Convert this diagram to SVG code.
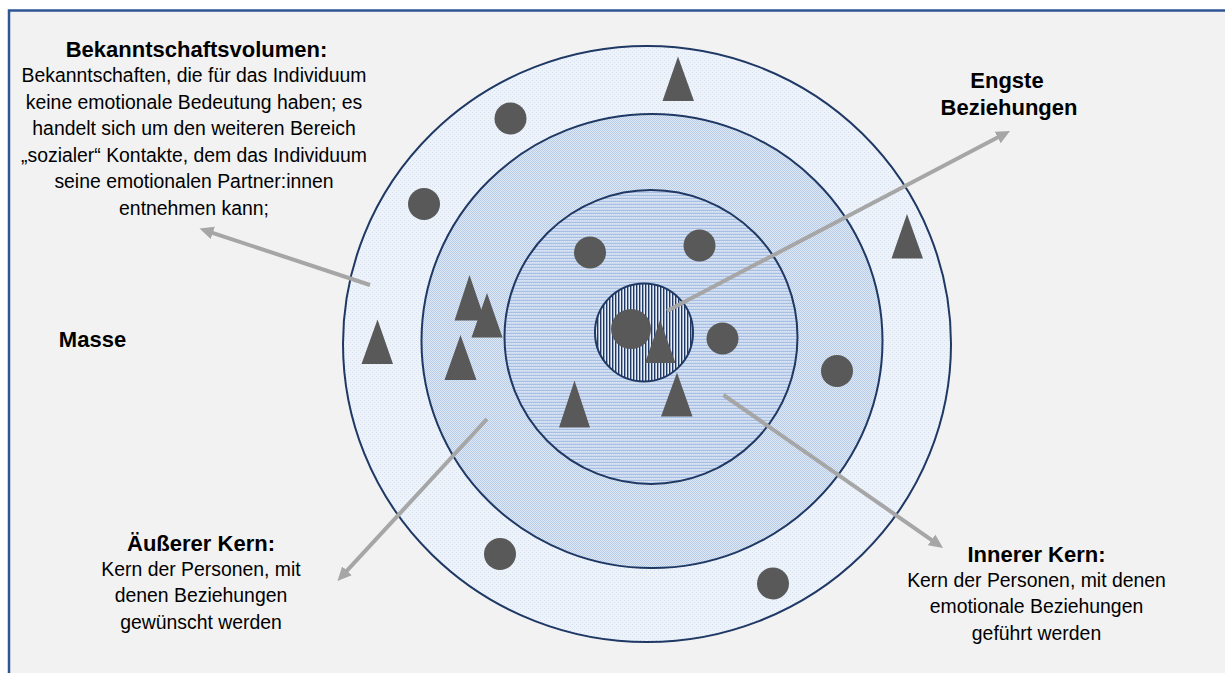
<svg xmlns="http://www.w3.org/2000/svg" width="1225" height="673" viewBox="0 0 1225 673">
<style>
.t{font-family:"Liberation Sans",Arial,sans-serif;font-weight:bold;font-size:22px;fill:#000;text-anchor:middle}
.b{font-family:"Liberation Sans",Arial,sans-serif;font-size:19.4px;fill:#000;text-anchor:middle}
.ring{stroke:#1f3864;stroke-width:2}
.dot{fill:#595959}
.con{stroke:#a6a6a6;stroke-width:4;fill:none;marker-end:url(#ah)}
</style>
<defs>
<pattern id="p1" width="4" height="4" patternUnits="userSpaceOnUse">
<rect width="4" height="4" fill="#eef3fa"/>
<rect x="0" y="0" width="1" height="1" fill="#d4e0f1"/>
<rect x="2" y="2" width="1" height="1" fill="#d4e0f1"/>
</pattern>
<pattern id="p2" width="2" height="2" patternUnits="userSpaceOnUse">
<rect width="2" height="2" fill="#dfe8f5"/>
<rect x="0" y="0" width="1" height="1" fill="#b9cce7"/>
<rect x="1" y="1" width="1" height="1" fill="#b9cce7"/>
</pattern>
<pattern id="p3" width="2" height="3" patternUnits="userSpaceOnUse">
<rect width="2" height="3" fill="#cbdaf0"/>
<rect x="0" y="0" width="2" height="1" fill="#a7bfe2"/>
<rect x="0" y="1" width="1" height="1" fill="#dce6f5"/>
</pattern>
<pattern id="p4" width="3" height="3" patternUnits="userSpaceOnUse">
<rect width="3" height="3" fill="#e6eef9"/>
<rect x="0" y="0" width="1.4" height="3" fill="#1f3864"/>
</pattern>
<marker id="ah" markerUnits="userSpaceOnUse" markerWidth="16" markerHeight="16" viewBox="0 -8 16 16" refX="2" refY="0" orient="auto">
<path d="M0,-6.5 L14,0 L0,6.5 z" fill="#a6a6a6"/>
</marker>
</defs>
<rect width="1225" height="673" fill="#ffffff"/>
<rect x="9" y="10.5" width="1230" height="680" fill="#f2f2f2" stroke="#2f5597" stroke-width="2.5"/>

<g id="ring-bekanntschaft"><ellipse class="ring" cx="647" cy="344" rx="304" ry="298" fill="url(#p1)"/></g>
<g id="ring-aeusserer-kern"><ellipse class="ring" cx="652" cy="341" rx="230.5" ry="227" fill="url(#p2)"/></g>
<g id="ring-innerer-kern"><ellipse class="ring" cx="651" cy="337" rx="146.5" ry="147" fill="url(#p3)"/></g>
<g id="ring-engste"><circle class="ring" cx="644" cy="332.5" r="49" fill="url(#p4)"/></g>

<g id="persons">
<circle class="dot" cx="510.5" cy="118.5" r="16"/>
<circle class="dot" cx="424" cy="204" r="16"/>
<circle class="dot" cx="590" cy="252.5" r="16"/>
<circle class="dot" cx="699.5" cy="245.5" r="16"/>
<circle class="dot" cx="631" cy="329" r="20"/>
<circle class="dot" cx="722.5" cy="338.5" r="16"/>
<circle class="dot" cx="837" cy="371" r="16"/>
<circle class="dot" cx="500" cy="554" r="16"/>
<circle class="dot" cx="773" cy="583.5" r="16"/>
<polygon class="dot" points="678,56.5 694,101 662.5,101"/>
<polygon class="dot" points="907,214 923,258.5 891.5,258.5"/>
<polygon class="dot" points="377.5,319.5 393,364 361.5,364"/>
<polygon class="dot" points="469.5,275 485,320.5 454.5,320.5"/>
<polygon class="dot" points="487,293 502.5,337.5 471.5,337.5"/>
<polygon class="dot" points="460.5,335 476.5,380 444.5,380"/>
<polygon class="dot" points="574.5,380.5 590,427.5 559,427.5"/>
<polygon class="dot" points="677,372.5 692.5,416.5 661,416.5"/>
<polygon class="dot" points="660,320 675.5,363 645,363"/>
</g>

<g id="connectors">
<line class="con" x1="370" y1="285" x2="210.9" y2="232.3"/>
<line class="con" x1="667" y1="311" x2="999.4" y2="136.6"/>
<line class="con" x1="487" y1="419" x2="345.6" y2="572.2"/>
<line class="con" x1="723.5" y1="395" x2="933.2" y2="541.1"/>
</g>

<g id="label-bekanntschaftsvolumen">
<text class="t" x="196.5" y="57">Bekanntschaftsvolumen:</text>
<text class="b" x="194" y="82">Bekanntschaften, die für das Individuum</text>
<text class="b" x="194" y="108.6">keine emotionale Bedeutung haben; es</text>
<text class="b" x="194" y="135.2">handelt sich um den weiteren Bereich</text>
<text class="b" x="194" y="161.8">„sozialer“ Kontakte, dem das Individuum</text>
<text class="b" x="194" y="188.4">seine emotionalen Partner:innen</text>
<text class="b" x="194" y="215">entnehmen kann;</text>
</g>
<g id="label-engste">
<text class="t" x="1007" y="88">Engste</text>
<text class="t" x="1009" y="114.5">Beziehungen</text>
</g>
<g id="label-masse">
<text class="t" x="92.5" y="346.5">Masse</text>
</g>
<g id="label-aeusserer-kern">
<text class="t" x="201" y="550.5">Äußerer Kern:</text>
<text class="b" x="201" y="575.7">Kern der Personen, mit</text>
<text class="b" x="201" y="602.3">denen Beziehungen</text>
<text class="b" x="201" y="629">gewünscht werden</text>
</g>
<g id="label-innerer-kern">
<text class="t" x="1036.5" y="561.7">Innerer Kern:</text>
<text class="b" x="1036.5" y="586.7">Kern der Personen, mit denen</text>
<text class="b" x="1036.5" y="613.3">emotionale Beziehungen</text>
<text class="b" x="1036.5" y="640">geführt werden</text>
</g>
</svg>
